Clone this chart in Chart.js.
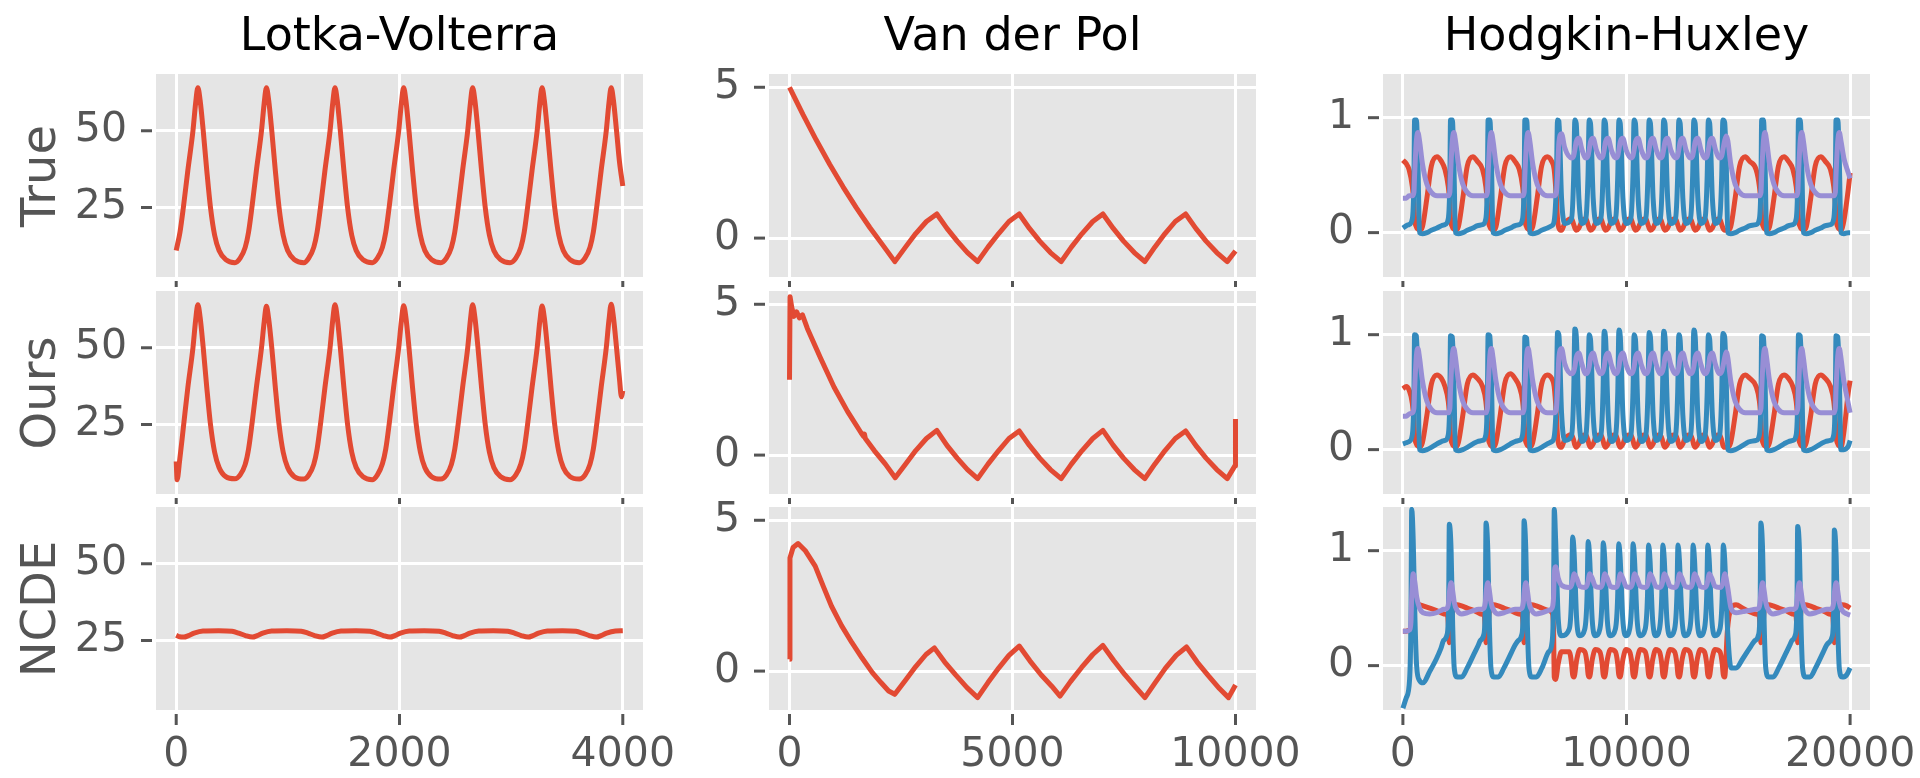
<!DOCTYPE html>
<html>
<head>
<meta charset="utf-8">
<script src="https://cdn.jsdelivr.net/npm/chart.js@4.4.0/dist/chart.umd.min.js"></script>
<style>
  html, body { margin: 0; padding: 0; background: #ffffff; overflow: hidden; }
  #fig { position: relative; width: 1920px; height: 778px; }
  .panel { position: absolute; }
  .title {
    position: absolute; top: 11px; width: 487px; text-align: center;
    font: 46px/46px 'DejaVu Sans', sans-serif; color: #000000; white-space: nowrap;
  }
  .rowlab {
    position: absolute; left: 38px;
    font: 48px/48px 'DejaVu Sans', sans-serif; color: #555555; white-space: nowrap;
    transform: translate(-50%, -50%) rotate(-90deg);
  }
</style>
</head>
<body>
<div id="fig"></div>
<script>
// ===========================
// DATA
// ===========================

const columnTitles = ['Lotka-Volterra', 'Van der Pol', 'Hodgkin-Huxley'];
const rowLabels = ['True', 'Ours', 'NCDE'];

// tick labels
const lvXTicks = [0, 2000, 4000];
const lvYTicks = [25, 50];
const vdpXTicks = [0, 5000, 10000];
const vdpYTicks = [0, 5];
const hhXTicks = [0, 10000, 20000];
const hhYTicks = [0, 1];

// axis ranges
const lvXRange = [-181, 4181];
const lvYRange = [2.35, 68.5];
const vdpXRange = [-460, 10460];
const vdpYRange = [-1.29, 5.44];
const hhXRange = [-890, 20890];
const hhYRange = [-0.386, 1.38];

// --- Lotka-Volterra ---
const lvTrueT = [
  0, 34, 64, 104, 150, 174, 194, 214, 242, 274, 307, 344, 384, 444, 526,
  573, 618, 648, 678, 718, 764, 788, 808, 828, 856, 888, 921, 958, 998, 1058, 1144,
  1187, 1232, 1262, 1292, 1332, 1378, 1402, 1422, 1442, 1470, 1502, 1535, 1572, 1612, 1672, 1756,
  1802, 1847, 1877, 1907, 1947, 1993, 2017, 2037, 2057, 2085, 2117, 2150, 2187, 2227, 2287, 2371,
  2420, 2465, 2495, 2525, 2565, 2611, 2635, 2655, 2675, 2703, 2735, 2768, 2805, 2845, 2905, 2990,
  3042, 3087, 3117, 3147, 3187, 3233, 3257, 3277, 3297, 3325, 3357, 3390, 3427, 3467, 3527, 3610,
  3661, 3706, 3736, 3766, 3806, 3852, 3876, 3896, 3916, 3944, 3970, 4000
];
const lvTrueY = [
  11, 17, 25, 37, 50, 59, 64, 60, 50, 37, 25, 16, 11, 8, 7,
  8.5, 12, 17, 25, 37, 50, 59, 64, 60, 50, 37, 25, 16, 11, 8, 7,
  8.5, 12, 17, 25, 37, 50, 59, 64, 60, 50, 37, 25, 16, 11, 8, 7,
  8.5, 12, 17, 25, 37, 50, 59, 64, 60, 50, 37, 25, 16, 11, 8, 7,
  8.5, 12, 17, 25, 37, 50, 59, 64, 60, 50, 37, 25, 16, 11, 8, 7,
  8.5, 12, 17, 25, 37, 50, 59, 64, 60, 50, 37, 25, 16, 11, 8, 7,
  8.5, 12, 17, 25, 37, 50, 59, 64, 60, 50, 40, 32
];
const lvOursT = [
  0, 8, 30, 64, 104, 150, 174, 194, 214, 242, 274, 307, 344, 384, 444, 526,
  573, 618, 648, 678, 718, 764, 788, 808, 828, 856, 888, 921, 958, 998, 1058, 1144,
  1187, 1232, 1262, 1292, 1332, 1378, 1402, 1422, 1442, 1470, 1502, 1535, 1572, 1612, 1672, 1756,
  1802, 1847, 1877, 1907, 1947, 1993, 2017, 2037, 2057, 2085, 2117, 2150, 2187, 2227, 2287, 2371,
  2420, 2465, 2495, 2525, 2565, 2611, 2635, 2655, 2675, 2703, 2735, 2768, 2805, 2845, 2905, 2990,
  3042, 3087, 3117, 3147, 3187, 3233, 3257, 3277, 3297, 3325, 3357, 3390, 3427, 3467, 3527, 3610,
  3661, 3706, 3736, 3766, 3806, 3852, 3876, 3896, 3916, 3944, 3970, 3988, 4000
];
const lvOursY = [
  13, 7, 13, 24, 37, 50, 59, 64, 60, 50, 37, 25, 16, 11, 8, 7.3,
  8.6, 12, 17, 25, 37, 50, 58.5, 63.5, 59.5, 50, 37, 25, 16, 11, 8, 7.2,
  8.5, 12, 17, 25, 37, 50, 59, 64, 60, 50, 37, 25, 16, 11, 8, 7,
  8.6, 12.2, 17, 25, 37, 50, 58.8, 63.7, 60, 50, 37, 25, 16, 11, 8, 7.2,
  8.5, 12, 17, 25, 37, 50, 59, 64, 60, 50, 37, 25, 16, 11, 8, 7,
  8.6, 12.1, 17, 25, 37, 50, 58.7, 63.6, 59.8, 50, 37, 25, 16, 11, 8, 7.2,
  8.5, 12, 17, 25, 37, 50, 59, 64.2, 60, 50, 40, 34, 36
];
const lvNcdeT = [
  0, 30, 69,
  110, 160, 240, 380, 500, 560, 620, 683,
  725, 775, 855, 990, 1120, 1180, 1240, 1305,
  1347, 1397, 1477, 1610, 1735, 1795, 1855, 1916,
  1958, 2008, 2088, 2220, 2355, 2415, 2475, 2538,
  2580, 2630, 2710, 2840, 2970, 3030, 3090, 3153,
  3195, 3245, 3325, 3460, 3580, 3640, 3700, 3763,
  3805, 3855, 3935, 4000
];
const lvNcdeY = [
  26.7, 26.2, 26.1,
  26.6, 27.4, 28.1, 28.2, 28.0, 27.4, 26.6, 26.1,
  26.6, 27.4, 28.1, 28.2, 28.0, 27.4, 26.6, 26.1,
  26.6, 27.4, 28.1, 28.2, 28.0, 27.4, 26.6, 26.1,
  26.6, 27.4, 28.1, 28.2, 28.0, 27.4, 26.6, 26.1,
  26.6, 27.4, 28.1, 28.2, 28.0, 27.4, 26.6, 26.1,
  26.6, 27.4, 28.1, 28.2, 28.0, 27.4, 26.6, 26.1,
  26.6, 27.4, 28.1, 28.2
];

// --- Van der Pol ---
const vdpTrueT = [
  0, 300, 600, 900, 1200, 1500, 1800, 2100, 2362,
  2600, 2830, 3070, 3303, 3530, 3760, 3990, 4219,
  4450, 4690, 4920, 5151, 5380, 5610, 5850, 6092,
  6320, 6560, 6800, 7027, 7260, 7490, 7730, 7967,
  8190, 8420, 8650, 8882, 9110, 9340, 9580, 9815,
  10000
];
const vdpTrueY = [
  5, 4.1, 3.25, 2.45, 1.7, 1.0, 0.35, -0.25, -0.78,
  -0.3, 0.15, 0.55, 0.8, 0.32, -0.1, -0.48, -0.78,
  -0.3, 0.15, 0.55, 0.8, 0.32, -0.1, -0.48, -0.78,
  -0.3, 0.15, 0.55, 0.8, 0.32, -0.1, -0.48, -0.78,
  -0.3, 0.15, 0.55, 0.8, 0.32, -0.1, -0.48, -0.78,
  -0.43
];
const vdpOursT = [
  0, 12, 50, 100, 160, 220, 290, 400,
  700, 1000, 1300, 1600, 1660, 1680, 1700, 1900, 2150, 2370,
  2600, 2830, 3070, 3303, 3530, 3760, 3990, 4219,
  4450, 4690, 4920, 5151, 5380, 5610, 5850, 6092,
  6320, 6560, 6800, 7027, 7260, 7490, 7730, 7967,
  8190, 8420, 8650, 8882, 9110, 9340, 9580, 9815,
  9990, 10000
];
const vdpOursY = [
  2.5, 5.25, 4.9, 4.6, 4.75, 4.55, 4.65, 4.2,
  3.2, 2.25, 1.45, 0.75, 0.62, 0.7, 0.55, 0.15, -0.3, -0.75,
  -0.3, 0.15, 0.55, 0.82, 0.32, -0.1, -0.48, -0.78,
  -0.3, 0.15, 0.55, 0.8, 0.32, -0.1, -0.48, -0.78,
  -0.3, 0.15, 0.55, 0.82, 0.32, -0.1, -0.48, -0.78,
  -0.3, 0.15, 0.55, 0.8, 0.32, -0.1, -0.48, -0.78,
  -0.35, 1.2
];
const vdpNcdeT = [
  0, 10, 80, 192, 350, 576, 760, 942, 1170, 1400, 1620, 1857, 2050, 2223, 2360,
  2600, 2830, 3060, 3248, 3480, 3720, 3980, 4218,
  4450, 4690, 4920, 5151, 5390, 5640, 5880, 6066,
  6300, 6550, 6800, 7027, 7270, 7520, 7770, 7969,
  8200, 8430, 8670, 8902, 9140, 9390, 9640, 9844,
  10000
];
const vdpNcdeY = [
  0.39, 3.75, 4.1, 4.23, 4.0, 3.48, 2.8, 2.15, 1.5, 0.94, 0.45, -0.05, -0.38, -0.66, -0.77,
  -0.3, 0.15, 0.55, 0.77, 0.3, -0.12, -0.55, -0.88,
  -0.38, 0.1, 0.52, 0.83, 0.34, -0.12, -0.5, -0.83,
  -0.35, 0.12, 0.55, 0.85, 0.35, -0.12, -0.55, -0.88,
  -0.38, 0.1, 0.52, 0.8, 0.3, -0.15, -0.58, -0.88,
  -0.46
];

// --- Hodgkin-Huxley (True / Ours share sample times) ---
const hhTime = [
  0, 150, 273, 423, 493, 523, 603, 673, 743, 873, 1073, 1273, 1523, 1723,
  1880, 2030, 2100, 2130, 2210, 2280, 2350, 2480, 2680, 2880, 3130, 3330,
  3560, 3710, 3780, 3810, 3890, 3960, 4030, 4160, 4360, 4560, 4810, 5010,
  5204, 5354, 5424, 5454, 5534, 5604, 5674, 5804, 6004, 6204, 6454, 6654,
  6765, 6865, 6915, 6975, 7095, 7235,
  7540, 7640, 7690, 7750, 7870, 8010,
  8180, 8280, 8330, 8390, 8510, 8650,
  8850, 8950, 9000, 9060, 9180, 9320,
  9510, 9610, 9660, 9720, 9840, 9980,
  10190, 10290, 10340, 10400, 10520, 10660,
  10860, 10960, 11010, 11070, 11190, 11330,
  11510, 11610, 11660, 11720, 11840, 11980,
  12190, 12290, 12340, 12400, 12520, 12660,
  12860, 12960, 13010, 13070, 13190, 13330,
  13510, 13610, 13660, 13720, 13840, 13980,
  14160, 14260, 14310, 14390, 14460, 14530, 14660, 14860, 15060, 15310, 15510,
  15795, 15945, 16015, 16045, 16125, 16195, 16265, 16395, 16595, 16795, 17045, 17245,
  17440, 17590, 17660, 17690, 17770, 17840, 17910, 18040, 18240, 18440, 18690, 18890,
  19120, 19270, 19340, 19370, 19450, 19520, 19590, 19720, 19920, 20000
];
const hhTrueV = [
  0.04, 0.06, 0.07, 0.12, 0.45, 0.98, 0.98, 0.6, 0.0, -0.01, 0.0, 0.02, 0.04, 0.06,
  0.07, 0.12, 0.45, 0.98, 0.98, 0.6, 0.0, -0.01, 0.0, 0.02, 0.04, 0.06,
  0.07, 0.12, 0.45, 0.98, 0.98, 0.6, 0.0, -0.01, 0.0, 0.02, 0.04, 0.06,
  0.07, 0.12, 0.45, 0.98, 0.98, 0.6, 0.0, -0.01, 0.0, 0.02, 0.04, 0.06,
  0.1, 0.45, 0.98, 0.97, 0.3, 0.08,
  0.12, 0.5, 0.98, 0.95, 0.3, 0.08,
  0.12, 0.5, 0.98, 0.95, 0.3, 0.08,
  0.12, 0.5, 0.98, 0.95, 0.3, 0.08,
  0.12, 0.5, 0.98, 0.95, 0.3, 0.08,
  0.12, 0.5, 0.98, 0.95, 0.3, 0.08,
  0.12, 0.5, 0.98, 0.95, 0.3, 0.08,
  0.12, 0.5, 0.98, 0.95, 0.3, 0.08,
  0.12, 0.5, 0.98, 0.95, 0.3, 0.08,
  0.12, 0.5, 0.98, 0.95, 0.3, 0.08,
  0.12, 0.5, 0.98, 0.95, 0.3, 0.08,
  0.12, 0.5, 0.98, 0.96, 0.6, 0.0, -0.01, 0.0, 0.02, 0.04, 0.06,
  0.07, 0.12, 0.45, 0.98, 0.98, 0.6, 0.0, -0.01, 0.0, 0.02, 0.04, 0.06,
  0.07, 0.12, 0.45, 0.98, 0.98, 0.6, 0.0, -0.01, 0.0, 0.02, 0.04, 0.06,
  0.07, 0.12, 0.45, 0.98, 0.98, 0.6, 0.0, -0.01, 0.0, 0.0
];
const hhTrueH = [
  0.63, 0.6, 0.55, 0.4, 0.25, 0.12, 0.05, 0.03, 0.02, 0.05, 0.3, 0.58, 0.66, 0.62,
  0.55, 0.4, 0.25, 0.12, 0.05, 0.03, 0.02, 0.05, 0.3, 0.58, 0.66, 0.62,
  0.55, 0.4, 0.25, 0.12, 0.05, 0.03, 0.02, 0.05, 0.3, 0.58, 0.66, 0.62,
  0.55, 0.4, 0.25, 0.12, 0.05, 0.03, 0.02, 0.05, 0.3, 0.58, 0.66, 0.62,
  0.55, 0.3, 0.12, 0.04, 0.02, 0.08,
  0.12, 0.07, 0.04, 0.02, 0.04, 0.1,
  0.12, 0.07, 0.04, 0.02, 0.04, 0.1,
  0.12, 0.07, 0.04, 0.02, 0.04, 0.1,
  0.12, 0.07, 0.04, 0.02, 0.04, 0.1,
  0.12, 0.07, 0.04, 0.02, 0.04, 0.1,
  0.12, 0.07, 0.04, 0.02, 0.04, 0.1,
  0.12, 0.07, 0.04, 0.02, 0.04, 0.1,
  0.12, 0.07, 0.04, 0.02, 0.04, 0.1,
  0.12, 0.07, 0.04, 0.02, 0.04, 0.1,
  0.12, 0.07, 0.04, 0.02, 0.04, 0.1,
  0.12, 0.07, 0.04, 0.02, 0.02, 0.02, 0.05, 0.3, 0.58, 0.66, 0.62,
  0.55, 0.4, 0.25, 0.12, 0.05, 0.03, 0.02, 0.05, 0.3, 0.58, 0.66, 0.62,
  0.55, 0.4, 0.25, 0.12, 0.05, 0.03, 0.02, 0.05, 0.3, 0.58, 0.66, 0.62,
  0.55, 0.4, 0.25, 0.12, 0.05, 0.03, 0.02, 0.1, 0.38, 0.52
];
const hhTrueN = [
  0.3, 0.3, 0.32, 0.32, 0.35, 0.5, 0.8, 0.87, 0.8, 0.6, 0.42, 0.35, 0.32, 0.32,
  0.32, 0.32, 0.35, 0.5, 0.8, 0.87, 0.8, 0.6, 0.42, 0.35, 0.32, 0.32,
  0.32, 0.32, 0.35, 0.5, 0.8, 0.87, 0.8, 0.6, 0.42, 0.35, 0.32, 0.32,
  0.32, 0.32, 0.35, 0.5, 0.8, 0.87, 0.8, 0.6, 0.42, 0.35, 0.32, 0.32,
  0.32, 0.35, 0.5, 0.78, 0.86, 0.74,
  0.65, 0.67, 0.72, 0.79, 0.82, 0.72,
  0.65, 0.67, 0.72, 0.79, 0.82, 0.72,
  0.65, 0.67, 0.72, 0.79, 0.82, 0.72,
  0.65, 0.67, 0.72, 0.79, 0.82, 0.72,
  0.65, 0.67, 0.72, 0.79, 0.82, 0.72,
  0.65, 0.67, 0.72, 0.79, 0.82, 0.72,
  0.65, 0.67, 0.72, 0.79, 0.82, 0.72,
  0.65, 0.67, 0.72, 0.79, 0.82, 0.72,
  0.65, 0.67, 0.72, 0.79, 0.82, 0.72,
  0.65, 0.67, 0.72, 0.79, 0.82, 0.72,
  0.65, 0.67, 0.72, 0.8, 0.84, 0.8, 0.6, 0.42, 0.35, 0.32, 0.32,
  0.32, 0.32, 0.35, 0.5, 0.8, 0.87, 0.8, 0.6, 0.42, 0.35, 0.32, 0.32,
  0.32, 0.32, 0.35, 0.5, 0.8, 0.87, 0.8, 0.6, 0.42, 0.35, 0.32, 0.32,
  0.32, 0.32, 0.35, 0.5, 0.8, 0.87, 0.8, 0.65, 0.52, 0.47
];
const hhOursV = [
  0.05, 0.06, 0.07, 0.13, 0.47, 1.0, 0.99, 0.6, 0.0, -0.01, 0.0, 0.02, 0.05, 0.07,
  0.08, 0.13, 0.46, 0.99, 0.98, 0.58, 0.0, -0.01, 0.0, 0.02, 0.05, 0.07,
  0.08, 0.13, 0.47, 1.0, 0.99, 0.6, 0.0, -0.01, 0.0, 0.02, 0.05, 0.07,
  0.08, 0.13, 0.45, 0.98, 0.97, 0.6, 0.0, -0.01, 0.0, 0.02, 0.05, 0.07,
  0.11, 0.46, 1.02, 1.0, 0.32, 0.08,
  0.12, 0.5, 1.05, 1.0, 0.3, 0.07,
  0.12, 0.5, 1.0, 0.96, 0.3, 0.08,
  0.12, 0.5, 1.03, 0.98, 0.3, 0.07,
  0.12, 0.5, 1.04, 0.99, 0.3, 0.08,
  0.12, 0.5, 1.0, 0.96, 0.3, 0.07,
  0.12, 0.5, 1.02, 0.98, 0.3, 0.08,
  0.12, 0.5, 1.03, 0.98, 0.3, 0.07,
  0.12, 0.5, 1.0, 0.95, 0.3, 0.08,
  0.12, 0.5, 1.04, 0.99, 0.3, 0.07,
  0.12, 0.5, 1.0, 0.96, 0.3, 0.08,
  0.12, 0.5, 1.01, 0.98, 0.6, 0.0, -0.01, 0.0, 0.02, 0.05, 0.07,
  0.08, 0.13, 0.46, 0.99, 0.98, 0.6, 0.0, -0.01, 0.0, 0.02, 0.05, 0.07,
  0.08, 0.13, 0.46, 1.0, 0.99, 0.6, 0.0, -0.01, 0.0, 0.02, 0.05, 0.07,
  0.08, 0.13, 0.46, 0.99, 0.98, 0.6, 0.0, 0.0, 0.03, 0.08
];
const hhOursH = [
  0.53, 0.55, 0.52, 0.4, 0.25, 0.12, 0.05, 0.03, 0.02, 0.06, 0.3, 0.57, 0.65, 0.62,
  0.55, 0.42, 0.25, 0.12, 0.05, 0.03, 0.02, 0.06, 0.3, 0.57, 0.65, 0.62,
  0.55, 0.42, 0.25, 0.12, 0.05, 0.03, 0.02, 0.06, 0.31, 0.58, 0.66, 0.62,
  0.55, 0.42, 0.25, 0.12, 0.05, 0.03, 0.02, 0.06, 0.3, 0.57, 0.65, 0.62,
  0.55, 0.3, 0.12, 0.04, 0.02, 0.09,
  0.13, 0.08, 0.04, 0.02, 0.05, 0.12,
  0.13, 0.08, 0.04, 0.02, 0.05, 0.12,
  0.13, 0.08, 0.04, 0.02, 0.05, 0.12,
  0.13, 0.08, 0.04, 0.02, 0.05, 0.12,
  0.13, 0.08, 0.04, 0.02, 0.05, 0.12,
  0.13, 0.08, 0.04, 0.02, 0.05, 0.12,
  0.13, 0.08, 0.04, 0.02, 0.05, 0.12,
  0.13, 0.08, 0.04, 0.02, 0.05, 0.12,
  0.13, 0.08, 0.04, 0.02, 0.05, 0.12,
  0.13, 0.08, 0.04, 0.02, 0.05, 0.12,
  0.13, 0.08, 0.04, 0.02, 0.02, 0.02, 0.06, 0.3, 0.57, 0.65, 0.62,
  0.55, 0.42, 0.25, 0.12, 0.05, 0.03, 0.02, 0.06, 0.3, 0.57, 0.65, 0.62,
  0.55, 0.42, 0.25, 0.12, 0.05, 0.03, 0.02, 0.06, 0.3, 0.57, 0.65, 0.62,
  0.55, 0.42, 0.25, 0.12, 0.05, 0.03, 0.02, 0.15, 0.5, 0.6
];
const hhOursN = [
  0.29, 0.29, 0.31, 0.32, 0.36, 0.52, 0.82, 0.88, 0.8, 0.6, 0.42, 0.35, 0.32, 0.32,
  0.32, 0.32, 0.36, 0.52, 0.82, 0.88, 0.8, 0.6, 0.42, 0.35, 0.32, 0.32,
  0.32, 0.32, 0.36, 0.52, 0.82, 0.88, 0.8, 0.6, 0.42, 0.35, 0.32, 0.32,
  0.32, 0.32, 0.36, 0.52, 0.82, 0.88, 0.8, 0.6, 0.42, 0.35, 0.32, 0.32,
  0.32, 0.36, 0.52, 0.8, 0.88, 0.75,
  0.66, 0.68, 0.72, 0.8, 0.84, 0.74,
  0.66, 0.68, 0.72, 0.8, 0.84, 0.74,
  0.66, 0.68, 0.72, 0.8, 0.84, 0.74,
  0.66, 0.68, 0.72, 0.8, 0.84, 0.74,
  0.66, 0.68, 0.72, 0.8, 0.84, 0.74,
  0.66, 0.68, 0.72, 0.8, 0.84, 0.74,
  0.66, 0.68, 0.72, 0.8, 0.84, 0.74,
  0.66, 0.68, 0.72, 0.8, 0.84, 0.74,
  0.66, 0.68, 0.72, 0.8, 0.84, 0.74,
  0.66, 0.68, 0.72, 0.8, 0.84, 0.74,
  0.66, 0.68, 0.72, 0.8, 0.85, 0.8, 0.6, 0.42, 0.35, 0.32, 0.32,
  0.32, 0.32, 0.36, 0.52, 0.82, 0.88, 0.8, 0.6, 0.42, 0.35, 0.32, 0.32,
  0.32, 0.32, 0.36, 0.52, 0.82, 0.88, 0.8, 0.6, 0.42, 0.35, 0.32, 0.32,
  0.32, 0.32, 0.36, 0.52, 0.82, 0.88, 0.8, 0.6, 0.4, 0.32
];

// --- Hodgkin-Huxley (NCDE) ---
const hhNcdeT = [
  0, 150, 300, 360, 394, 460, 540, 614, 744, 900, 1200, 1500, 1700,
  1826, 1976, 2046, 2076, 2156, 2226, 2296, 2426, 2626, 2876, 3176, 3376,
  3468, 3618, 3688, 3718, 3798, 3868, 3938, 4068, 4268, 4518, 4818, 5018,
  5168, 5318, 5388, 5418, 5498, 5568, 5638, 5768, 5968, 6218,
  6519, 6669, 6739, 6769, 6829, 6949, 7089,
  7442, 7542, 7592, 7652, 7772, 7912,
  8136, 8236, 8286, 8346, 8466, 8606,
  8810, 8910, 8960, 9020, 9140, 9280,
  9505, 9605, 9655, 9715, 9835, 9975,
  10144, 10244, 10294, 10354, 10474, 10614,
  10838, 10938, 10988, 11048, 11168, 11308,
  11477, 11577, 11627, 11687, 11807, 11947,
  12153, 12253, 12303, 12363, 12483, 12623,
  12829, 12929, 12979, 13039, 13159, 13299,
  13486, 13586, 13636, 13696, 13816, 13956,
  14180, 14280, 14330, 14390, 14510, 14675, 14900, 15200, 15500,
  15758, 15908, 15978, 16008, 16088, 16158, 16228, 16358, 16558, 16808, 17108, 17308,
  17405, 17555, 17625, 17655, 17735, 17805, 17875, 18005, 18205, 18455, 18755, 18955,
  19046, 19196, 19266, 19296, 19376, 19446, 19516, 19646, 19846, 20000
];
const hhNcdeV = [
  -0.37, -0.28, -0.12, 0.4, 1.36, 1.1, 0.4, 0.0, -0.13, -0.15, -0.05, 0.06, 0.15,
  0.22, 0.27, 0.55, 1.23, 1.0, 0.35, -0.02, -0.1, -0.1, -0.02, 0.1, 0.18,
  0.22, 0.27, 0.55, 1.24, 1.0, 0.35, -0.02, -0.1, -0.1, -0.02, 0.1, 0.18,
  0.22, 0.27, 0.55, 1.26, 1.0, 0.35, -0.02, -0.1, -0.1, -0.02,
  0.12, 0.2, 0.6, 1.36, 1.1, 0.4, 0.26,
  0.32, 0.6, 1.12, 1.0, 0.4, 0.26,
  0.32, 0.6, 1.08, 0.96, 0.4, 0.26,
  0.32, 0.6, 1.07, 0.95, 0.4, 0.26,
  0.32, 0.6, 1.06, 0.94, 0.4, 0.26,
  0.32, 0.6, 1.06, 0.94, 0.4, 0.26,
  0.32, 0.6, 1.05, 0.93, 0.4, 0.26,
  0.32, 0.6, 1.05, 0.93, 0.4, 0.26,
  0.32, 0.6, 1.05, 0.93, 0.4, 0.26,
  0.32, 0.6, 1.05, 0.93, 0.4, 0.26,
  0.32, 0.6, 1.05, 0.93, 0.4, 0.26,
  0.32, 0.6, 1.05, 0.93, 0.35, -0.02, -0.02, 0.06, 0.15,
  0.22, 0.27, 0.55, 1.24, 1.0, 0.35, -0.02, -0.1, -0.1, -0.02, 0.1, 0.18,
  0.22, 0.27, 0.55, 1.21, 1.0, 0.35, -0.02, -0.1, -0.1, -0.02, 0.1, 0.18,
  0.2, 0.25, 0.5, 1.18, 0.95, 0.35, -0.02, -0.1, -0.08, -0.02
];
const hhNcdeH = [
  0.3, 0.3, 0.31, 0.3, 0.22, 0.35, 0.52, 0.55, 0.53, 0.52, 0.5, 0.48, 0.46,
  0.45, 0.44, 0.32, 0.2, 0.3, 0.48, 0.53, 0.53, 0.52, 0.5, 0.48, 0.46,
  0.45, 0.44, 0.32, 0.2, 0.3, 0.48, 0.53, 0.53, 0.52, 0.5, 0.48, 0.46,
  0.45, 0.44, 0.32, 0.2, 0.3, 0.48, 0.53, 0.53, 0.52, 0.5,
  0.48, 0.46, 0.3, -0.1, -0.12, 0.02, 0.12,
  0.12, 0.02, -0.08, -0.1, 0.05, 0.14,
  0.12, 0.02, -0.08, -0.1, 0.05, 0.14,
  0.12, 0.02, -0.08, -0.1, 0.05, 0.14,
  0.12, 0.02, -0.08, -0.1, 0.05, 0.14,
  0.12, 0.02, -0.08, -0.1, 0.05, 0.14,
  0.12, 0.02, -0.08, -0.1, 0.05, 0.14,
  0.12, 0.02, -0.08, -0.1, 0.05, 0.14,
  0.12, 0.02, -0.08, -0.1, 0.05, 0.14,
  0.12, 0.02, -0.08, -0.1, 0.05, 0.14,
  0.12, 0.02, -0.08, -0.1, 0.05, 0.14,
  0.12, 0.02, -0.08, -0.1, 0.3, 0.5, 0.53, 0.5, 0.47,
  0.45, 0.44, 0.32, 0.2, 0.3, 0.48, 0.53, 0.53, 0.52, 0.5, 0.48, 0.46,
  0.45, 0.44, 0.32, 0.2, 0.3, 0.48, 0.53, 0.53, 0.52, 0.5, 0.48, 0.46,
  0.45, 0.44, 0.32, 0.2, 0.3, 0.48, 0.53, 0.53, 0.52, 0.5
];
const hhNcdeN = [
  0.3, 0.3, 0.31, 0.38, 0.6, 0.8, 0.72, 0.6, 0.5, 0.46, 0.45, 0.46, 0.48,
  0.49, 0.5, 0.55, 0.63, 0.72, 0.65, 0.55, 0.48, 0.45, 0.46, 0.48, 0.49,
  0.49, 0.5, 0.55, 0.63, 0.72, 0.65, 0.55, 0.48, 0.45, 0.46, 0.48, 0.49,
  0.49, 0.5, 0.55, 0.63, 0.72, 0.65, 0.55, 0.48, 0.45, 0.46,
  0.48, 0.5, 0.6, 0.8, 0.86, 0.76, 0.7,
  0.68, 0.7, 0.74, 0.8, 0.76, 0.69,
  0.68, 0.7, 0.74, 0.8, 0.76, 0.69,
  0.68, 0.7, 0.74, 0.8, 0.76, 0.69,
  0.68, 0.7, 0.74, 0.8, 0.76, 0.69,
  0.68, 0.7, 0.74, 0.8, 0.76, 0.69,
  0.68, 0.7, 0.74, 0.8, 0.76, 0.69,
  0.68, 0.7, 0.74, 0.8, 0.76, 0.69,
  0.68, 0.7, 0.74, 0.8, 0.76, 0.69,
  0.68, 0.7, 0.74, 0.8, 0.76, 0.69,
  0.68, 0.7, 0.74, 0.8, 0.76, 0.69,
  0.68, 0.7, 0.74, 0.8, 0.7, 0.5, 0.46, 0.47, 0.48,
  0.49, 0.5, 0.55, 0.63, 0.72, 0.65, 0.55, 0.48, 0.45, 0.46, 0.48, 0.49,
  0.49, 0.5, 0.55, 0.63, 0.72, 0.65, 0.55, 0.48, 0.45, 0.46, 0.48, 0.49,
  0.49, 0.5, 0.55, 0.63, 0.72, 0.65, 0.55, 0.48, 0.45, 0.44
];

// ===========================
// LAYOUT / STYLE
// ===========================
const RED = '#E24A33';
const BLUE = '#348ABD';
const PURPLE = '#988ED5';

const colLeft = [156, 769, 1383];
const rowTop = [74, 291, 507];
const panelW = 487;
const panelH = 203;
const AXIS_W = 120;   // room left of each panel for y tick labels
const PAD_TOP = 60;
const PAD_RIGHT = 85;
const AXIS_H = 80;    // room below each panel for x tick labels
const TICK_FONT = 41;

Chart.defaults.font.family = "'DejaVu Sans', sans-serif";

function pts(xs, ys) {
  return xs.map((x, i) => ({ x: x, y: ys[i] }));
}

// grey ggplot-like panel background
const panelBackground = {
  id: 'panelBackground',
  beforeDraw(chart) {
    const { ctx, chartArea: a } = chart;
    ctx.save();
    ctx.fillStyle = '#E5E5E5';
    ctx.fillRect(a.left, a.top, a.right - a.left, a.bottom - a.top);
    ctx.restore();
  }
};

// short outward tick marks, slightly detached from the panel
const tickMarks = {
  id: 'tickMarks',
  afterDraw(chart, args, opts) {
    const { ctx, chartArea: a, scales } = chart;
    ctx.save();
    ctx.strokeStyle = '#555555';
    ctx.lineWidth = 3;
    scales.x.ticks.forEach(t => {
      const px = scales.x.getPixelForValue(t.value);
      ctx.beginPath();
      ctx.moveTo(px, a.bottom + 4);
      ctx.lineTo(px, a.bottom + 4 + opts.xLen);
      ctx.stroke();
    });
    scales.y.ticks.forEach(t => {
      const py = scales.y.getPixelForValue(t.value);
      ctx.beginPath();
      ctx.moveTo(a.left - 4, py);
      ctx.lineTo(a.left - 15, py);
      ctx.stroke();
    });
    ctx.restore();
  }
};

const columns = [
  {
    xRange: lvXRange, yRange: lvYRange, xTicks: lvXTicks, yTicks: lvYTicks,
    rows: [
      [{ xs: lvTrueT, ys: lvTrueY, color: RED, order: 1 }],
      [{ xs: lvOursT, ys: lvOursY, color: RED, order: 1 }],
      [{ xs: lvNcdeT, ys: lvNcdeY, color: RED, order: 1 }]
    ]
  },
  {
    xRange: vdpXRange, yRange: vdpYRange, xTicks: vdpXTicks, yTicks: vdpYTicks,
    rows: [
      [{ xs: vdpTrueT, ys: vdpTrueY, color: RED, order: 1 }],
      [{ xs: vdpOursT, ys: vdpOursY, color: RED, order: 1 }],
      [{ xs: vdpNcdeT, ys: vdpNcdeY, color: RED, order: 1 }]
    ]
  },
  {
    xRange: hhXRange, yRange: hhYRange, xTicks: hhXTicks, yTicks: hhYTicks,
    rows: [
      [
        { xs: hhTime, ys: hhTrueH, color: RED, order: 3 },
        { xs: hhTime, ys: hhTrueV, color: BLUE, order: 2 },
        { xs: hhTime, ys: hhTrueN, color: PURPLE, order: 1 }
      ],
      [
        { xs: hhTime, ys: hhOursH, color: RED, order: 3 },
        { xs: hhTime, ys: hhOursV, color: BLUE, order: 2 },
        { xs: hhTime, ys: hhOursN, color: PURPLE, order: 1 }
      ],
      [
        { xs: hhNcdeT, ys: hhNcdeH, color: RED, order: 3 },
        { xs: hhNcdeT, ys: hhNcdeV, color: BLUE, order: 2 },
        { xs: hhNcdeT, ys: hhNcdeN, color: PURPLE, order: 1 }
      ]
    ]
  }
];

const fig = document.getElementById('fig');

function makePanel(col, row) {
  const c = columns[col];
  const bottomRow = row === 2;

  const holder = document.createElement('div');
  holder.className = 'panel';
  holder.style.left = (colLeft[col] - AXIS_W) + 'px';
  holder.style.top = (rowTop[row] - PAD_TOP) + 'px';
  const canvas = document.createElement('canvas');
  const w = AXIS_W + panelW + PAD_RIGHT;
  const h = PAD_TOP + panelH + AXIS_H;
  canvas.width = w;
  canvas.height = h;
  canvas.style.width = w + 'px';
  canvas.style.height = h + 'px';
  holder.appendChild(canvas);
  fig.appendChild(holder);

  const datasets = c.rows[row].map(s => ({
    data: pts(s.xs, s.ys),
    borderColor: s.color,
    backgroundColor: s.color,
    borderWidth: 5,
    borderJoinStyle: 'round',
    pointRadius: 0,
    fill: false,
    order: s.order,
    cubicInterpolationMode: col === 1 ? 'default' : 'monotone',
    tension: 0
  }));

  return new Chart(canvas, {
    type: 'line',
    data: { datasets: datasets },
    plugins: [panelBackground, tickMarks],
    options: {
      responsive: false,
      maintainAspectRatio: false,
      devicePixelRatio: 1,
      animation: false,
      events: [],
      layout: { padding: { top: PAD_TOP, right: PAD_RIGHT, left: 0, bottom: 0 } },
      plugins: {
        legend: { display: false },
        tooltip: { enabled: false },
        tickMarks: { xLen: bottomRow ? 11 : 6 }
      },
      scales: {
        x: {
          type: 'linear',
          min: c.xRange[0],
          max: c.xRange[1],
          afterBuildTicks: scale => { scale.ticks = c.xTicks.map(v => ({ value: v })); },
          afterFit: scale => { scale.height = AXIS_H; },
          grid: { color: '#ffffff', lineWidth: 3, drawTicks: false },
          border: { display: false },
          ticks: {
            display: bottomRow,
            color: '#555555',
            font: { size: TICK_FONT },
            padding: 21,
            maxRotation: 0,
            minRotation: 0,
            autoSkip: false,
            callback: v => String(v)
          }
        },
        y: {
          type: 'linear',
          min: c.yRange[0],
          max: c.yRange[1],
          afterBuildTicks: scale => { scale.ticks = c.yTicks.map(v => ({ value: v })); },
          afterFit: scale => { scale.width = AXIS_W; },
          grid: { color: '#ffffff', lineWidth: 3, drawTicks: false },
          border: { display: false },
          ticks: {
            color: '#555555',
            font: { size: TICK_FONT },
            padding: 29,
            autoSkip: false,
            callback: v => String(v)
          }
        }
      }
    }
  });
}

for (let col = 0; col < 3; col++) {
  for (let row = 0; row < 3; row++) {
    makePanel(col, row);
  }
}

// column titles
columnTitles.forEach((t, col) => {
  const d = document.createElement('div');
  d.className = 'title';
  d.style.left = colLeft[col] + 'px';
  d.textContent = t;
  fig.appendChild(d);
});

// row labels
rowLabels.forEach((t, row) => {
  const d = document.createElement('div');
  d.className = 'rowlab';
  d.style.top = (rowTop[row] + panelH / 2) + 'px';
  d.textContent = t;
  fig.appendChild(d);
});
</script>
</body>
</html>
